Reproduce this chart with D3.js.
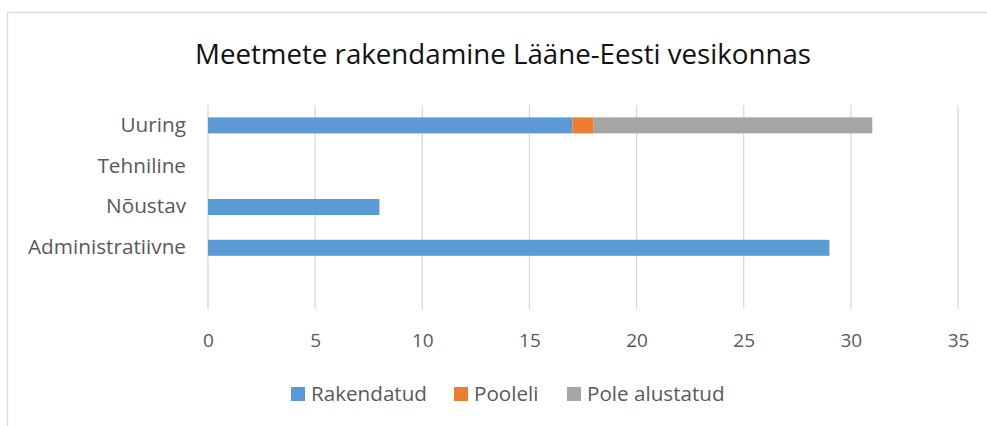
<!DOCTYPE html>
<html><head><meta charset="utf-8">
<script src="https://cdn.jsdelivr.net/npm/d3@7"></script>
<style>body{margin:0;background:#fff;}svg{display:block;}</style>
</head><body>
<script>
const title = "Meetmete rakendamine Lääne-Eesti vesikonnas";
const categories = ["Uuring", "Tehniline", "Nõustav", "Administratiivne", ""];
const seriesNames = ["Rakendatud", "Pooleli", "Pole alustatud"];
const rakendatud = [17, 0, 8, 29, 0];
const pooleli = [1, 0, 0, 0, 0];
const poleAlustatud = [13, 0, 0, 0, 0];
const xTicks = [0, 5, 10, 15, 20, 25, 30, 35];
const colors = ["#5B9BD5", "#ED7D31", "#A5A5A5"];

const W = 987, H = 426;
const svg = d3.select("body").append("svg").attr("width", W).attr("height", H);
const font = "'Open Sans', 'DejaVu Sans', sans-serif";

// chart border
svg.append("rect").attr("x", 7.5).attr("y", 12.5).attr("width", 1200).attr("height", 800)
  .attr("fill", "none").attr("stroke", "#d9d9d9").attr("stroke-width", 1.3);

// condense a group of texts so that the reference text gets the target width
function condense(sel, refSel, target) {
  const k = target / refSel.node().getComputedTextLength();
  sel.each(function () {
    const w = this.getComputedTextLength();
    if (w > 0) d3.select(this).attr("textLength", w * k).attr("lengthAdjust", "spacingAndGlyphs");
  });
}

// title
const t = svg.append("text").attr("x", 503).attr("y", 63.5).attr("text-anchor", "middle")
  .attr("font-family", font).attr("font-size", 27).attr("fill", "#111").text(title);
condense(t, t, 616);

const x = d3.scaleLinear().domain([0, 35]).range([208, 958]);
const y = d3.scaleBand().domain(categories).range([105, 309]).paddingInner(0.6).paddingOuter(0.3);

// grid
svg.append("g").selectAll("line").data(xTicks).join("line")
  .attr("x1", d => x(d)).attr("x2", d => x(d))
  .attr("y1", 105).attr("y2", 309)
  .attr("stroke", "#d9d9d9").attr("stroke-width", 1.3);

// stacked bars
const rows = categories.map((c, i) => ({cat: c, Rakendatud: rakendatud[i], Pooleli: pooleli[i], "Pole alustatud": poleAlustatud[i]}));
const stack = d3.stack().keys(seriesNames)(rows);
const barH = 16;
svg.append("g").selectAll("g").data(stack).join("g")
  .attr("fill", (d, i) => colors[i])
  .selectAll("rect").data(d => d.filter(s => s[1] - s[0] > 0)).join("rect")
  .attr("x", d => x(d[0]))
  .attr("width", d => x(d[1]) - x(d[0]))
  .attr("y", d => y(d.data.cat) + y.bandwidth() / 2 - barH / 2)
  .attr("height", barH);

// y labels
const yAxis = d3.axisLeft(y).tickSize(0).tickPadding(22);
const yg = svg.append("g").attr("transform", `translate(${x(0)},0)`).call(yAxis);
yg.select(".domain").remove();
const ytx = yg.selectAll("text").attr("font-family", font).attr("fill", "#595959").attr("font-size", 20);
condense(ytx, ytx.filter(d => d === "Administratiivne"), 158);

// x axis
const xAxis = d3.axisBottom(x).tickValues(xTicks).tickSize(0).tickPadding(0);
const xg = svg.append("g").attr("transform", `translate(0,333.5)`).call(xAxis);
xg.select(".domain").remove();
xg.selectAll("text").attr("font-family", font).attr("fill", "#595959").attr("font-size", 19)
  .attr("dy", "0.71em");

// legend
const legX = [291, 454, 567];
const items = svg.append("g").selectAll("g").data(seriesNames).join("g")
  .attr("transform", (d, i) => `translate(${legX[i]},387)`);
items.append("rect").attr("width", 14).attr("height", 14).attr("fill", (d, i) => colors[i]);
const lt = items.append("text").attr("x", 20).attr("y", 13.7)
  .attr("font-family", font).attr("font-size", 20).attr("fill", "#595959").text(d => d);
condense(lt, lt.filter(d => d === "Rakendatud"), 116);
</script>
</body></html>
